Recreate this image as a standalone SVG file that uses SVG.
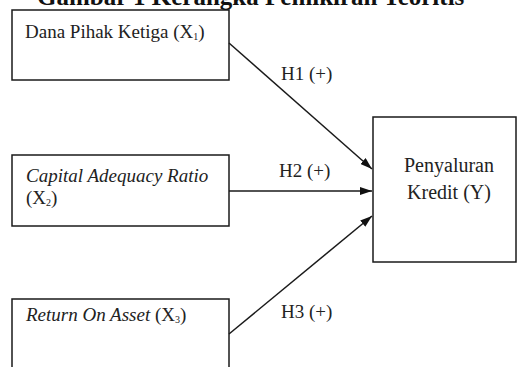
<svg xmlns="http://www.w3.org/2000/svg" width="517" height="367" viewBox="0 0 517 367">
<defs>
<style>
.box{fill:#fff;stroke:#1a1a1a;stroke-width:1.5}
.t{font-family:"Liberation Serif","Times New Roman",serif;font-size:19px;fill:#222}
.i{font-style:italic}
.title{font-family:"Liberation Serif","Times New Roman",serif;font-size:25px;font-weight:bold;fill:#111}
.sub{font-size:10px}
.conn{stroke:#1a1a1a;stroke-width:1.5;fill:none}
</style>
<marker id="ah" viewBox="0 0 12 8" refX="12" refY="4" markerWidth="12" markerHeight="8" markerUnits="userSpaceOnUse" orient="auto">
<path d="M0,0 L12,4 L0,8 Z" fill="#111"/>
</marker>
</defs>
<rect width="517" height="367" fill="#fff"/>
<text class="title" x="37" y="5">Gambar 1 Kerangka Pemikiran Teoritis</text>
<g id="node-dpk">
<rect class="box" x="12" y="10" width="217" height="70"/>
<text class="t" x="25" y="38">Dana Pihak Ketiga (X<tspan class="sub" dy="2">1</tspan><tspan dy="-2">)</tspan></text>
</g>
<g id="node-car">
<rect class="box" x="12" y="155" width="217" height="71"/>
<text class="t i" x="26" y="182">Capital Adequacy Ratio</text>
<text class="t" x="26" y="204">(X<tspan class="sub" dy="2">2</tspan><tspan dy="-2">)</tspan></text>
</g>
<g id="node-roa">
<rect class="box" x="12" y="299" width="217" height="80"/>
<text class="t" x="26" y="321"><tspan class="i">Return On Asset </tspan>(X<tspan class="sub" dy="2">3</tspan><tspan dy="-2">)</tspan></text>
</g>
<g id="node-y">
<rect class="box" x="373" y="117" width="143" height="145"/>
<text class="t" x="449" y="172" text-anchor="middle" style="font-size:20px">Penyaluran</text>
<text class="t" x="449" y="199" text-anchor="middle" style="font-size:20px">Kredit (Y)</text>
</g>
<g id="connectors">
<line class="conn" x1="229" y1="43" x2="372" y2="169" marker-end="url(#ah)"/>
<line class="conn" x1="229" y1="191" x2="372" y2="191" marker-end="url(#ah)"/>
<line class="conn" x1="229" y1="334" x2="372" y2="216" marker-end="url(#ah)"/>
<text class="t" x="281" y="80">H1 (+)</text>
<text class="t" x="279" y="177">H2 (+)</text>
<text class="t" x="281" y="318">H3 (+)</text>
</g>
</svg>
